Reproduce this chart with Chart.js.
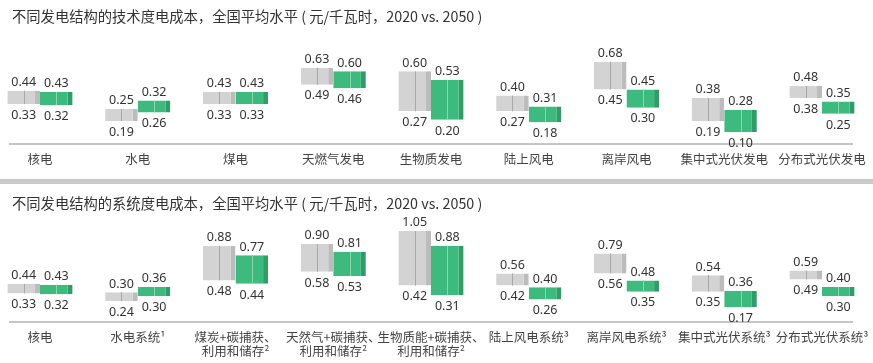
<!DOCTYPE html>
<html>
<head>
<meta charset="utf-8">
<script src="https://cdn.jsdelivr.net/npm/chart.js@4.4.0/dist/chart.umd.min.js"></script>
<style>
    body { margin: 0; background: #fff; width: 873px; height: 363px; overflow: hidden; position: relative; font-family: "Noto Sans CJK SC", sans-serif; }
    .title { position: absolute; left: 12px; font-size: 14.3px; line-height: 20px; color: #333; white-space: nowrap; }
    .sep { position: absolute; left: 0; top: 179px; width: 873px; height: 5px; background: #cbcbcb; }
    .panel { position: absolute; left: 0; width: 873px; height: 178px; }
</style>
</head>
<body>
<div class="panel" style="top:0"><canvas id="techChart" width="873" height="178"></canvas></div>
<div class="sep"></div>
<div class="panel" style="top:185px"><canvas id="sysChart" width="873" height="178"></canvas></div>
<div class="title" style="top:6px">不同发电结构的技术度电成本，全国平均水平 (&nbsp;元/千瓦时，2020 vs. 2050&nbsp;)</div>
<div class="title" style="top:193px">不同发电结构的系统度电成本，全国平均水平 (&nbsp;元/千瓦时，2020 vs. 2050&nbsp;)</div>

<script>
// technology cost (top panel)
const techLabels = ['核电', '水电', '煤电', '天燃气发电', '生物质发电', '陆上风电', '离岸风电', '集中式光伏发电', '分布式光伏发电'];
const techLow2020 = [0.33, 0.19, 0.33, 0.49, 0.27, 0.27, 0.45, 0.19, 0.38];
const techHigh2020 = [0.44, 0.25, 0.43, 0.63, 0.60, 0.40, 0.68, 0.38, 0.48];
const techLow2050 = [0.32, 0.26, 0.33, 0.46, 0.20, 0.18, 0.30, 0.10, 0.25];
const techHigh2050 = [0.43, 0.32, 0.43, 0.60, 0.53, 0.31, 0.45, 0.28, 0.35];

// system cost (bottom panel)
const sysLabels = ['核电', '水电系统¹', ['煤炭+碳捕获、', '利用和储存²'], ['天然气+碳捕获、', '利用和储存²'], ['生物质能+碳捕获、', '利用和储存²'], '陆上风电系统³', '离岸风电系统³', '集中式光伏系统³', '分布式光伏系统³'];
const sysLow2020 = [0.33, 0.24, 0.48, 0.58, 0.42, 0.42, 0.56, 0.35, 0.49];
const sysHigh2020 = [0.44, 0.30, 0.88, 0.90, 1.05, 0.56, 0.79, 0.54, 0.59];
const sysLow2050 = [0.32, 0.30, 0.44, 0.53, 0.31, 0.26, 0.35, 0.17, 0.30];
const sysHigh2050 = [0.43, 0.36, 0.77, 0.81, 0.88, 0.40, 0.48, 0.36, 0.40];

const grayFill = '#d3d3d3', grayEdge = '#bcbcbc', grayMid = '#a8a8a8';
const greenFill = '#3dba7e', greenEdge = '#2e9d66', greenMid = '#8fd4ae';

// baseline, middle line in each bar and the min/max value labels
const decorPlugin = {
    id: 'decor',
    beforeDatasetsDraw(chart) {
        const ctx = chart.ctx;
        const y = chart.scales.y.getPixelForValue(0);
        ctx.save();
        ctx.strokeStyle = '#b3b3b3';
        ctx.lineWidth = 1.5;
        ctx.beginPath();
        ctx.moveTo(9, y);
        ctx.lineTo(853, y);
        ctx.stroke();
        ctx.restore();
    },
    afterDatasetsDraw(chart) {
        const ctx = chart.ctx;
        ctx.save();
        ctx.font = '12.5px "Noto Sans", sans-serif';
        ctx.fillStyle = '#333';
        ctx.textAlign = 'center';
        chart.data.datasets.forEach((ds, i) => {
            const meta = chart.getDatasetMeta(i);
            meta.data.forEach((bar, j) => {
                const p = bar.getProps(['x', 'y', 'base'], true);
                const top = Math.min(p.y, p.base);
                const bottom = Math.max(p.y, p.base);
                ctx.strokeStyle = ds.midColor;
                ctx.lineWidth = 1;
                ctx.beginPath();
                ctx.moveTo(Math.round(p.x) + 0.5, top);
                ctx.lineTo(Math.round(p.x) + 0.5, bottom);
                ctx.stroke();

                const [lo, hi] = ds.data[j];
                ctx.textBaseline = 'bottom';
                ctx.fillText(hi.toFixed(2), p.x, top - 2);
                ctx.textBaseline = 'top';
                ctx.fillText(lo.toFixed(2), p.x, bottom + 5);
            });
        });
        ctx.restore();
    }
};

function makeDataset(label, low, high, fill, edge, mid, minLen) {
    return {
        label: label,
        data: low.map((v, i) => [v, high[i]]),
        backgroundColor: fill,
        borderColor: edge,
        borderWidth: { top: 0, right: 5, bottom: 0, left: 0 },
        borderSkipped: false,
        midColor: mid,
        clip: false,
        minBarLength: minLen,
        categoryPercentage: 0.667,
        barPercentage: 1
    };
}

function renderPanel(id, labels, low2020, high2020, low2050, high2050, yMax, padTop, axisHeight, tickPad, minLen) {
    const ctx = document.getElementById(id).getContext('2d');
    new Chart(ctx, {
        type: 'bar',
        data: {
            labels: labels,
            datasets: [
                makeDataset('2020', low2020, high2020, grayFill, grayEdge, grayMid, minLen),
                makeDataset('2050', low2050, high2050, greenFill, greenEdge, greenMid, minLen)
            ]
        },
        options: {
            responsive: false,
            animation: false,
            layout: { padding: { top: padTop, left: 40, right: 51, bottom: 0 } },
            plugins: {
                legend: { display: false },
                tooltip: { enabled: false }
            },
            scales: {
                x: {
                    offset: false,
                    grid: { display: false },
                    border: { display: false },
                    ticks: {
                        color: '#444',
                        font: { family: '"Noto Sans CJK SC", sans-serif', size: 12.5, lineHeight: 1.12 },
                        padding: tickPad,
                        maxRotation: 0,
                        minRotation: 0,
                        autoSkip: false
                    },
                    afterFit: s => { s.height = axisHeight; }
                },
                y: { display: false, min: 0, max: yMax }
            }
        },
        plugins: [decorPlugin]
    });
}

renderPanel('techChart', techLabels, techLow2020, techHigh2020, techLow2050, techHigh2050, 0.9, 35, 34, 0, 12);
renderPanel('sysChart', sysLabels, sysLow2020, sysHigh2020, sysLow2050, sysHigh2050, 1.2, 33, 41, 0, 9);
</script>
</body>
</html>
